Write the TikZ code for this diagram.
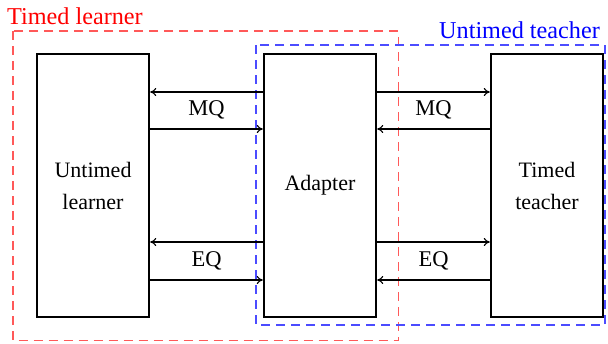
\documentclass[tikz,border=0pt]{standalone}
\usepackage{fontspec}
\setmainfont{Liberation Serif}
\usetikzlibrary{arrows.meta}
\begin{document}
\begin{tikzpicture}[x=1pt,y=-1pt,
  blk/.style={draw=black,line width=2.4pt,minimum width=112pt,minimum height=263pt,inner sep=0pt,align=center,font=\fontsize{22}{32}\selectfont},
  conn/.style={line width=1.1pt,-{To[length=6pt,width=8pt]}},
  lbl/.style={font=\fontsize{22.5}{26}\selectfont,inner sep=0pt},
  grp/.style={line width=1.4pt,dash pattern=on 9pt off 6pt}]
\useasboundingbox (0,0) rectangle (608,343);
\node[blk] (L) at (93,185.5) {Untimed\\learner};
\node[blk] (M) at (320,185.5) {Adapter};
\node[blk] (R) at (547,185.5) {Timed\\teacher};
% groups
\draw[grp,draw=red!65] (13,31) rectangle (398.5,340.5);
\draw[grp,draw=blue!70] (256,45) rectangle (605,325);
\node[text=red,anchor=base west,font=\fontsize{24.2}{28}\selectfont,inner sep=0pt] (tl) at (7,24) {Timed learner};
\node[text=blue,anchor=base east,font=\fontsize{24.2}{28}\selectfont,inner sep=0pt] (ut) at (600,38) {Untimed teacher};
% left arrows
\draw[conn] (M.west |- 0,92) -- (L.east |- 0,92);
\draw[conn] (L.east |- 0,129) -- (M.west |- 0,129);
\draw[conn] (M.west |- 0,242) -- (L.east |- 0,242);
\draw[conn] (L.east |- 0,280) -- (M.west |- 0,280);
% right arrows
\draw[conn] (M.east |- 0,92) -- (R.west |- 0,92);
\draw[conn] (R.west |- 0,129) -- (M.east |- 0,129);
\draw[conn] (M.east |- 0,242) -- (R.west |- 0,242);
\draw[conn] (R.west |- 0,280) -- (M.east |- 0,280);
% labels
\node[lbl] (mq1) at (206.5,110) {MQ};
\node[lbl] (eq1) at (206.5,261) {EQ};
\node[lbl] (mq2) at (433.5,110) {MQ};
\node[lbl] (eq2) at (433.5,261) {EQ};
\end{tikzpicture}
\end{document}
